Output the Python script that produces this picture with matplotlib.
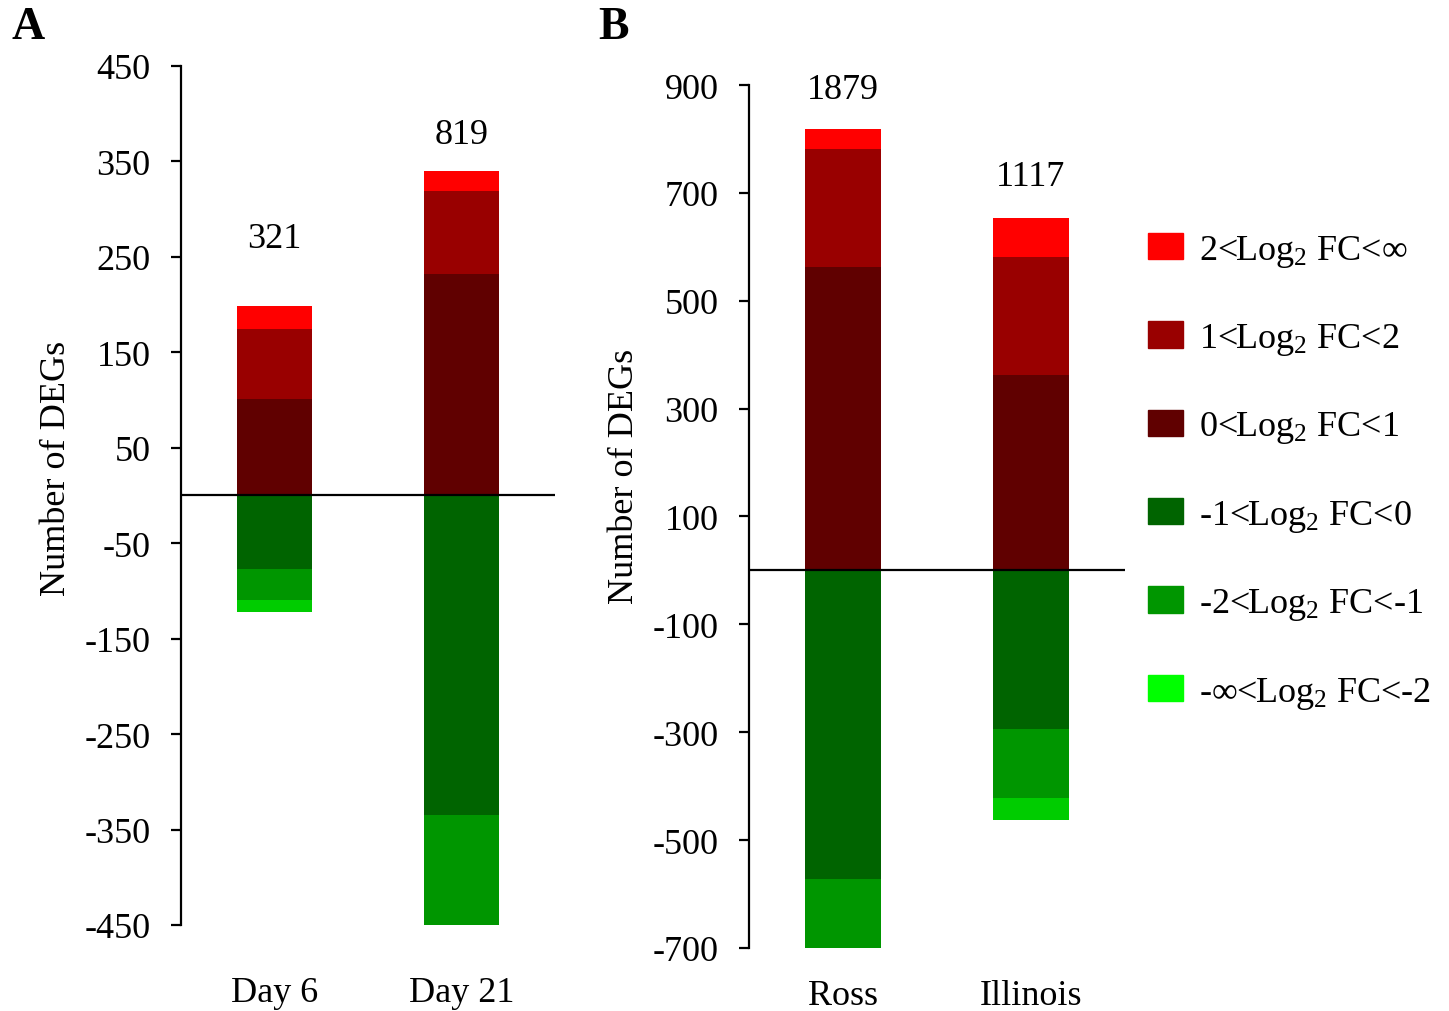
import matplotlib
matplotlib.use("Agg")
import matplotlib.pyplot as plt
import matplotlib.patches as mpatches
import numpy as np

# ── Styling ────────────────────────────────────────────────────────────────────
plt.rcParams.update({
    "font.family": ["Liberation Serif", "DejaVu Serif"],
    "mathtext.fontset": "custom",
    "mathtext.rm": "Liberation Serif",
    "mathtext.it": "Liberation Serif",
    "font.size": 26,
    "axes.linewidth": 1.6,
    "axes.unicode_minus": False,
})

RED_HI  = "#ff0000"
RED_MID = "#990000"
RED_LO  = "#600000"
GRN_LO  = "#006400"
GRN_MID = "#009600"
GRN_HI  = "#00cc00"
GRN_LEG = "#00ff00"

FS = 26

# ── Data ───────────────────────────────────────────────────────────────────────
cats_a = ["Day 6", "Day 21"]
up_a = {  # 0<FC<1, 1<FC<2, 2<FC<inf
    "0<1": [101, 232],
    "1<2": [73, 87],
    "2<inf": [25, 21],
}
down_a = {  # -1<FC<0, -2<FC<-1, -inf<FC<-2
    "-1<0": [77, 335],
    "-2<-1": [32, 117],
    "-inf<-2": [13, 27],
}
totals_a = [321, 819]

cats_b = ["Ross", "Illinois"]
up_b = {
    "0<1": [563, 362],
    "1<2": [218, 219],
    "2<inf": [37, 73],
}
down_b = {
    "-1<0": [572, 294],
    "-2<-1": [380, 128],
    "-inf<-2": [109, 41],
}
totals_b = [1879, 1117]

UP_COLORS = {"0<1": RED_LO, "1<2": RED_MID, "2<inf": RED_HI}
DOWN_COLORS = {"-1<0": GRN_LO, "-2<-1": GRN_MID, "-inf<-2": GRN_HI}


def draw_panel(ax, cats, up, down, totals, label_offsets, ylim, yticks, xpad, ylab_y):
    x = np.arange(len(cats))
    bottom = np.zeros(len(cats))
    for key in ["0<1", "1<2", "2<inf"]:
        vals = np.array(up[key], dtype=float)
        ax.bar(x, vals, 0.4, bottom=bottom, color=UP_COLORS[key], linewidth=0)
        bottom += vals
    tops = bottom.copy()
    bottom = np.zeros(len(cats))
    for key in ["-1<0", "-2<-1", "-inf<-2"]:
        vals = -np.array(down[key], dtype=float)
        ax.bar(x, vals, 0.4, bottom=bottom, color=DOWN_COLORS[key], linewidth=0)
        bottom += vals

    for xi, top, tot, off in zip(x, tops, totals, label_offsets):
        ax.annotate(str(tot), xy=(xi, top), xytext=(0, off),
                    textcoords="offset points", ha="center", va="center",
                    fontsize=FS)

    ax.axhline(0, color="black", linewidth=1.6, zorder=3)
    ax.set_xlim(-0.5, 1.5)
    ax.set_ylim(*ylim)
    ax.set_yticks(yticks)
    ax.set_xticks(x)
    ax.set_xticklabels(cats)
    for s in ["top", "right", "bottom"]:
        ax.spines[s].set_visible(False)
    ax.tick_params(axis="y", direction="out", length=7, width=1.6, pad=15,
                   labelsize=FS)
    ax.tick_params(axis="x", length=0, pad=xpad, labelsize=FS)
    ax.set_ylabel("Number of DEGs", fontsize=FS, labelpad=8)
    ax.yaxis.label.set_y(ylab_y)


fig = plt.figure(figsize=(14.49, 10.12), dpi=100)

ax_a = fig.add_axes([0.1249, 0.0850, 0.2581, 0.8488])
draw_panel(ax_a, cats_a, up_a, down_a, totals_a, [48.5, 26.5],
           (-450, 450), range(-450, 451, 100), 37, 0.533)

ax_b = fig.add_axes([0.5169, 0.0623, 0.2595, 0.8527])
draw_panel(ax_b, cats_b, up_b, down_b, totals_b, [28.5, 29.5],
           (-700, 900), range(-700, 901, 200), 22, 0.548)

fig.text(0.008, 0.972, "A", fontsize=33, fontweight="bold", va="center")
fig.text(0.413, 0.972, "B", fontsize=33, fontweight="bold", va="center")

# ── Legend ─────────────────────────────────────────────────────────────────────
leg_labels = [
    "2<Log$_2$ FC<\u221e",
    "1<Log$_2$ FC<2",
    "0<Log$_2$ FC<1",
    "-1<Log$_2$ FC<0",
    "-2<Log$_2$ FC<-1",
    "-\u221e<Log$_2$ FC<-2",
]
leg_colors = [RED_HI, RED_MID, RED_LO, GRN_LO, GRN_MID, GRN_LEG]
handles = [mpatches.Patch(color=c, label=l) for c, l in zip(leg_colors, leg_labels)]
fig.legend(handles=handles, loc="upper left", bbox_to_anchor=(0.7923, 0.769),
           frameon=False, fontsize=FS, handlelength=0.97, handleheight=0.75,
           handletextpad=0.45, labelspacing=1.45, borderaxespad=0,
           borderpad=0)

plt.savefig("out.png", dpi=100)
